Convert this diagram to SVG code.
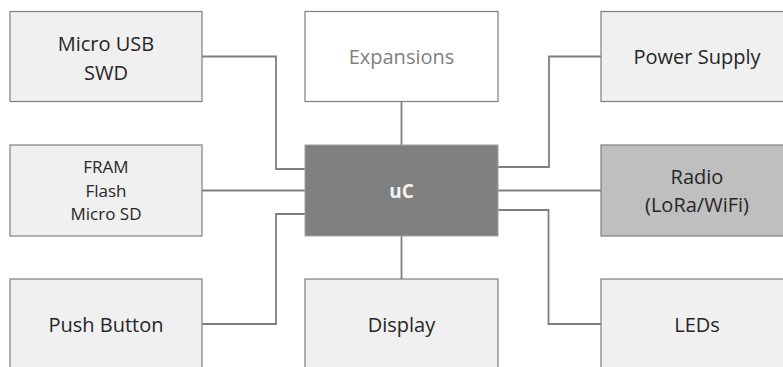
<svg xmlns="http://www.w3.org/2000/svg" width="783" height="367" viewBox="0 0 783 367">
<style>
.box{fill:#f0f0f0;stroke:#7f7f7f;stroke-width:1.2}
.t{font-family:"Open Sans","Noto Sans",sans-serif;font-size:20px;fill:#262626;text-anchor:middle}
.s{font-size:17px}
.c{fill:none;stroke:#7f7f7f;stroke-width:1.8}
</style>
<rect width="783" height="367" fill="#ffffff"/>
<g id="connectors">
<polyline class="c" points="202,56.5 276,56.5 276,169 305,169"/>
<line class="c" x1="202" y1="190.5" x2="305" y2="190.5"/>
<polyline class="c" points="202,324 276,324 276,214 305,214"/>
<line class="c" x1="401.5" y1="101" x2="401.5" y2="145"/>
<line class="c" x1="401.5" y1="236" x2="401.5" y2="279"/>
<polyline class="c" points="601,56.5 549,56.5 549,167 498,167"/>
<line class="c" x1="498" y1="190.5" x2="601" y2="190.5"/>
<polyline class="c" points="498,210 548.5,210 548.5,324 601,324"/>
</g>
<g id="microusb">
<rect class="box" x="10" y="11.5" width="192" height="90"/>
<text class="t" x="106" y="50.5">Micro USB</text>
<text class="t" x="106" y="80">SWD</text>
</g>
<g id="expansions">
<rect class="box" x="305" y="11.5" width="193" height="90" style="fill:#ffffff"/>
<text class="t" x="401.5" y="64" style="fill:#808080">Expansions</text>
</g>
<g id="power">
<rect class="box" x="601" y="11.5" width="192" height="90"/>
<text class="t" x="697" y="64">Power Supply</text>
</g>
<g id="memory">
<rect class="box" x="10" y="145" width="192" height="91"/>
<text class="t s" x="106" y="173">FRAM</text>
<text class="t s" x="106" y="196.5">Flash</text>
<text class="t s" x="106" y="220">Micro SD</text>
</g>
<g id="uc">
<rect x="305" y="145" width="193" height="91" fill="#808080" stroke="#a0a0a0" stroke-width="1"/>
<text class="t" x="401.5" y="198" style="fill:#f2f2f2;font-weight:bold;font-size:19px">uC</text>
</g>
<g id="radio">
<rect class="box" x="601" y="145" width="192" height="91" style="fill:#bfbfbf"/>
<text class="t" x="697" y="183.5">Radio</text>
<text class="t" x="697" y="211.5">(LoRa/WiFi)</text>
</g>
<g id="pushbutton">
<rect class="box" x="10" y="279" width="192" height="91"/>
<text class="t" x="106" y="331.5">Push Button</text>
</g>
<g id="display">
<rect class="box" x="305" y="279" width="193" height="91"/>
<text class="t" x="401.5" y="331.5">Display</text>
</g>
<g id="leds">
<rect class="box" x="601" y="279" width="192" height="91"/>
<text class="t" x="697" y="331.5">LEDs</text>
</g>
</svg>
